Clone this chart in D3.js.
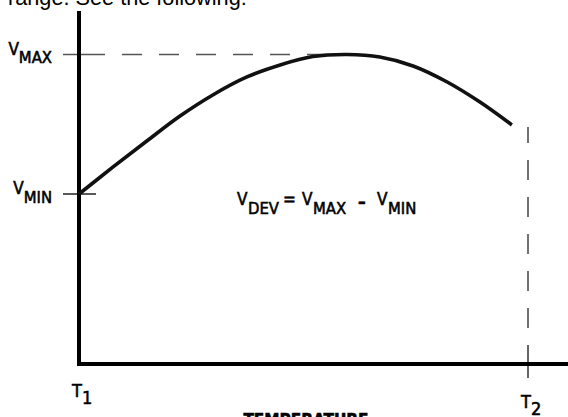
<!DOCTYPE html>
<html>
<head>
<meta charset="utf-8">
<script src="https://cdn.jsdelivr.net/npm/d3@7"></script>
<style>
  html, body { margin: 0; padding: 0; background: #fff; overflow: hidden; }
  svg { display: block; }
  .lbl { font-family: "Liberation Sans Narrow", "DejaVu Sans Condensed", "Arial Narrow", sans-serif; fill: #000; stroke: #000; stroke-width: 0.55px; }
</style>
</head>
<body>
<div id="container"></div>
<script>
/* CONSTANTS AND GLOBALS */
const width = 568,
  height = 417,
  margin = { top: 11, bottom: 53, left: 79, right: 40 };

/* DATA */
// temperature as a fraction of the T1..T2 span
const temps = [0, 0.076, 0.151, 0.225, 0.298, 0.374, 0.448, 0.521, 0.597, 0.67, 0.744, 0.82, 0.893, 0.964];
// output voltage as a fraction of VMIN..VMAX
const volts = [0, 0.194, 0.38, 0.559, 0.71, 0.839, 0.925, 0.985, 1.0, 0.982, 0.918, 0.803, 0.659, 0.495];
const tempLabels = [{ t: 0, main: "T", sub: "1" }, { t: 1, main: "T", sub: "2" }];
const voltLabels = [{ v: 1, main: "V", sub: "MAX" }, { v: 0, main: "V", sub: "MIN" }];
const xTitle = "TEMPERATURE";
const topText = "range. See the following:";

const data = temps.map((t, i) => ({ t: t, v: volts[i] }));

/* SCALES */
const xScale = d3.scaleLinear()
  .domain([0, 1])
  .range([margin.left, 528]);

const yScale = d3.scaleLinear()
  .domain([0, 1])
  .range([194, 54.5]);

/* HTML ELEMENTS */
const svg = d3.select("#container")
  .append("svg")
  .attr("width", width)
  .attr("height", height);

// leftover sentence from the page above
svg.append("text")
  .attr("x", 8)
  .attr("y", 5)
  .style("font-family", "'Liberation Sans', Arial, sans-serif")
  .style("font-size", "21.7px")
  .text(topText);

// guide lines (dashed) for VMAX and T2
const peak = data.find(d => d.v === d3.max(volts));
svg.append("line")
  .attr("x1", 122).attr("x2", xScale(peak.t))
  .attr("y1", yScale(1)).attr("y2", yScale(1))
  .attr("stroke", "#555").attr("stroke-width", 1.6)
  .attr("stroke-dasharray", "20,17");

const last = data[data.length - 1];
svg.append("line")
  .attr("x1", xScale(1)).attr("x2", xScale(1))
  .attr("y1", 328).attr("y2", yScale(last.v) + 2)
  .attr("stroke", "#444").attr("stroke-width", 1.5)
  .attr("stroke-dasharray", "20,17");

// level ticks crossing the y axis
svg.append("line")
  .attr("x1", 63).attr("x2", 105)
  .attr("y1", yScale(1)).attr("y2", yScale(1))
  .attr("stroke", "#555").attr("stroke-width", 1.6);
svg.append("line")
  .attr("x1", 63).attr("x2", 96)
  .attr("y1", yScale(0)).attr("y2", yScale(0))
  .attr("stroke", "#222").attr("stroke-width", 1.6);
// T2 tick crossing the x axis
svg.append("line")
  .attr("x1", xScale(1)).attr("x2", xScale(1))
  .attr("y1", 345).attr("y2", 378)
  .attr("stroke", "#333").attr("stroke-width", 1.5);

// axes
const axisY = height - margin.bottom;
svg.append("path")
  .attr("d", `M${margin.left},${margin.top}V${axisY}H${width + 5}`)
  .attr("fill", "none")
  .attr("stroke", "#000")
  .attr("stroke-width", 4)
  .attr("stroke-linejoin", "miter");

// curve
const line = d3.line()
  .x(d => xScale(d.t))
  .y(d => yScale(d.v))
  .curve(d3.curveCatmullRom.alpha(0.5));

svg.append("path")
  .datum(data)
  .attr("d", line)
  .attr("fill", "none")
  .attr("stroke", "#111")
  .attr("stroke-width", 3.6)
  .attr("stroke-linecap", "butt");

// V labels on the left
const vl = svg.selectAll("text.vlab")
  .data(voltLabels)
  .join("text")
  .attr("class", "lbl vlab")
  .attr("text-anchor", "end")
  .attr("x", 52)
  .attr("y", d => yScale(d.v))
  .style("font-size", "17px");
vl.append("tspan").text(d => d.main);
vl.append("tspan").attr("dy", 8.5).style("font-size", "16.5px").text(d => d.sub);

// T labels below
const tl = svg.selectAll("text.tlab")
  .data(tempLabels)
  .join("text")
  .attr("class", "lbl tlab")
  .attr("x", d => xScale(d.t) - 7)
  .attr("y", d => d.t === 0 ? 397 : 408)
  .style("font-size", "18px");
tl.append("tspan").text(d => d.main);
tl.append("tspan").attr("dy", 6.5).text(d => d.sub);

// VDEV equation
const eq = svg.append("text")
  .attr("class", "lbl")
  .attr("y", 205)
  .style("font-size", "17px");
const parts = [
  { x: 237, s: "V", sub: false }, { x: 248, s: "DEV", sub: true },
  { x: 283, s: "=", sub: false },
  { x: 302, s: "V", sub: false }, { x: 313, s: "MAX", sub: true },
  { x: 358, s: "\u2013", sub: false },
  { x: 377, s: "V", sub: false }, { x: 388, s: "MIN", sub: true }
];
parts.forEach(p => {
  eq.append("tspan")
    .attr("x", p.x)
    .attr("y", p.sub ? 213.5 : (p.s === "\u2013" ? 208 : 205))
    .style("font-size", p.sub ? "16.5px" : "17px")
    .style("font-weight", p.s === "\u2013" ? "bold" : null)
    .text(p.s);
});

// x axis title, cut by the bottom of the crop
svg.append("text")
  .attr("class", "lbl")
  .attr("x", 306)
  .attr("y", 426)
  .attr("text-anchor", "middle")
  .style("font-size", "17px")
  .style("font-weight", "bold")
  .text(xTitle);
</script>
</body>
</html>
